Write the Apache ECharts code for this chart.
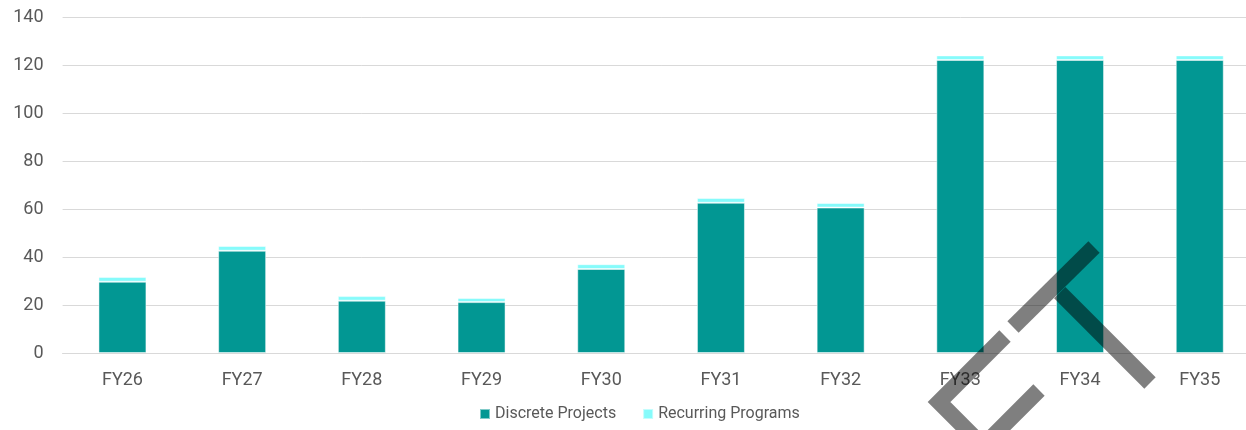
<!DOCTYPE html>
<html>
<head>
<meta charset="utf-8">
<script src="https://cdn.jsdelivr.net/npm/echarts@6/dist/echarts.min.js"></script>
<style>html,body{margin:0;padding:0;background:#fff;overflow:hidden}#chart{width:1260px;height:430px}</style>
</head>
<body>
<div id="chart"></div>
<script>
const categories = ['FY26','FY27','FY28','FY29','FY30','FY31','FY32','FY33','FY34','FY35'];
const discreteProjects = [29.7, 42.6, 21.8, 21.2, 35.0, 62.6, 60.6, 122.1, 122.1, 122.1];
const recurringPrograms = [2.0, 2.0, 1.9, 1.7, 2.0, 2.0, 1.9, 1.9, 1.9, 1.9];
const yTicks = [0, 20, 40, 60, 80, 100, 120, 140];

const chart = echarts.init(document.getElementById('chart'), null, {renderer: 'canvas'});
const txt = '#595959';
const font = 'Roboto';
const wm = {fill: null, stroke: 'rgba(0,0,0,0.5)', lineWidth: 16, lineJoin: 'miter', lineCap: 'butt'};
chart.setOption({
  animation: false,
  textStyle: {fontFamily: font},
  grid: {left: 62.6, right: 0.4, top: 17, bottom: 77, containLabel: false},
  legend: {
    bottom: 3, left: 474,
    itemWidth: 10, itemHeight: 10, itemGap: 26,
    icon: 'rect',
    textStyle: {color: txt, fontSize: 16, fontFamily: font},
    data: ['Discrete Projects', 'Recurring Programs']
  },
  xAxis: {
    type: 'category', data: categories,
    axisLine: {show: true, lineStyle: {color: '#d9d9d9'}},
    axisTick: {show: false},
    axisLabel: {color: txt, fontSize: 18, margin: 18, fontFamily: font}
  },
  yAxis: {
    type: 'value', min: yTicks[0], max: yTicks[yTicks.length-1], interval: 20,
    axisLine: {show: false}, axisTick: {show: false},
    splitLine: {lineStyle: {color: '#d9d9d9', width: 1}},
    axisLabel: {color: txt, fontSize: 18, margin: 19, fontFamily: font}
  },
  series: [
    {name: 'Discrete Projects', type: 'bar', stack: 't', data: discreteProjects, barWidth: 48,
     itemStyle: {color: '#029793', borderColor: 'rgba(255,255,255,0.5)', borderWidth: 1}},
    {name: 'Recurring Programs', type: 'bar', stack: 't', data: recurringPrograms, barWidth: 48,
     itemStyle: {color: '#86fbfb', borderColor: 'rgba(255,255,255,0.5)', borderWidth: 1}}
  ],
  graphic: [
    {type: 'polyline', silent: true, z: 100, shape: {points: [[1013,327],[1094,247]]}, style: wm},
    {type: 'polyline', silent: true, z: 100, shape: {points: [[1059.7,292.7],[1150,383]]}, style: wm},
    {type: 'polyline', silent: true, z: 100, shape: {points: [[1005,336],[939,402],[983,446],[1039,390]]}, style: wm}
  ]
});
</script>
</body>
</html>
